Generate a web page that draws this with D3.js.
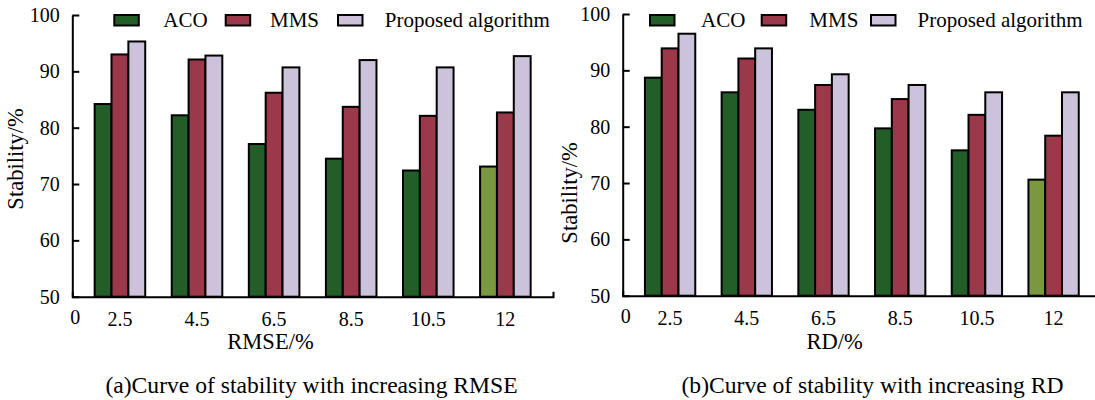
<!DOCTYPE html>
<html>
<head>
<meta charset="utf-8">
<script src="https://cdn.jsdelivr.net/npm/d3@7"></script>
<style>
  html, body { margin: 0; padding: 0; background: #fff; }
  svg { display: block; }
  text { font-family: "Liberation Serif", "Times New Roman", serif; fill: #000; }
</style>
</head>
<body>
<div id="chart"></div>
<script>
(function () {
  'use strict';

  // ── data ──────────────────────────────────────────────
  var categories = ['2.5', '4.5', '6.5', '8.5', '10.5', '12'];
  var seriesNames = ['ACO', 'MMS', 'Proposed algorithm'];
  var yTicks = [50, 60, 70, 80, 90, 100];

  var rmseAco = [84.2, 82.2, 77.1, 74.5, 72.4, 73.1];
  var rmseMms = [93.0, 92.1, 86.2, 83.7, 82.1, 82.7];
  var rmseProposed = [95.3, 92.8, 90.7, 92.0, 90.7, 92.7];

  var rdAco = [88.7, 86.1, 83.0, 79.7, 75.8, 70.6];
  var rdMms = [93.9, 92.1, 87.4, 84.9, 82.1, 78.4];
  var rdProposed = [96.5, 93.9, 89.3, 87.4, 86.1, 86.1];

  var colors = ['#235e28', '#9b384a', '#ccc2db'];
  var lastAcoColor = '#7a9840';

  var W = 1095, H = 400;
  var svg = d3.select('#chart').append('svg').attr('width', W).attr('height', H);
  svg.append('rect').attr('width', W).attr('height', H).attr('fill', '#fff');

  function drawPanel(opts) {
    var x = d3.scaleBand().domain(categories).range([opts.x0, opts.x1])
      .paddingInner(0.344).paddingOuter(0.29);
    var y = d3.scaleLinear().domain([50, 100]).range([opts.yBottom, opts.yTop]);
    var bw = x.bandwidth() / 3;
    var g = svg.append('g');

    // bars
    opts.series.forEach(function (vals, si) {
      g.selectAll('rect.s' + si).data(vals).enter().append('rect')
        .attr('class', 's' + si)
        .attr('x', function (d, i) { return x(categories[i]) + si * bw; })
        .attr('y', function (d) { return y(d); })
        .attr('width', bw)
        .attr('height', function (d) { return y(50) - y(d); })
        .attr('fill', function (d, i) { return (si === 0 && i === vals.length - 1) ? lastAcoColor : colors[si]; })
        .attr('stroke', '#000').attr('stroke-width', 2);
    });

    // axes
    var ax = g.append('g').attr('transform', 'translate(0,' + opts.yBottom + ')')
      .call(d3.axisBottom(x).tickSize(0).tickSizeOuter(-5).tickPadding(14.8));
    ax.selectAll('text').attr('font-size', 20);
    ax.select('.domain').attr('stroke-width', 2).attr('stroke', '#000');

    var ay = g.append('g').attr('transform', 'translate(' + opts.x0 + ',0)')
      .call(d3.axisLeft(y).tickValues(yTicks).tickSize(-7).tickSizeOuter(0).tickPadding(12.5));
    ay.selectAll('text').attr('font-size', 20);
    ay.selectAll('.tick line').attr('stroke-width', 2);
    ay.select('.domain').attr('stroke-width', 2);

    g.append('text').attr('x', opts.x0 + 3).attr('y', opts.yBottom + 27)
      .attr('text-anchor', 'middle').attr('font-size', 20).text('0');

    // titles
    g.append('text').attr('x', opts.xTitleX).attr('y', 348.5)
      .attr('text-anchor', 'middle').attr('font-size', 22.5).text(opts.xTitle);
    g.append('text').attr('transform', 'translate(' + opts.yTitleX + ',' + opts.yTitleY + ') rotate(-90)')
      .attr('text-anchor', 'middle').attr('font-size', 22.5).text('Stability/%');
    g.append('text').attr('x', opts.captionX).attr('y', 393)
      .attr('text-anchor', 'middle').attr('font-size', 23.6).text(opts.caption);

    // legend
    seriesNames.forEach(function (name, si) {
      g.append('rect').attr('x', opts.legendSwatch[si]).attr('y', 15)
        .attr('width', 24.5).attr('height', 10.5)
        .attr('fill', colors[si]).attr('stroke', '#000').attr('stroke-width', 2);
      g.append('text').attr('x', opts.legendText[si]).attr('y', 27)
        .attr('font-size', 21).text(name);
    });
  }

  drawPanel({
    series: [rmseAco, rmseMms, rmseProposed],
    x0: 72.3, x1: 553, yTop: 15, yBottom: 296.7,
    xTitle: 'RMSE/%', xTitleX: 270.5,
    yTitleX: 23.3, yTitleY: 159,
    caption: '(a)Curve of stability with increasing RMSE', captionX: 311.5,
    legendSwatch: [114.3, 225.7, 338], legendText: [163.3, 270, 384.8]
  });

  drawPanel({
    series: [rdAco, rdMms, rdProposed],
    x0: 622.7, x1: 1101, yTop: 14, yBottom: 295.7,
    xTitle: 'RD/%', xTitleX: 834.5,
    yTitleX: 576.6, yTitleY: 193,
    caption: '(b)Curve of stability with increasing RD', captionX: 872.5,
    legendSwatch: [650, 761.7, 871], legendText: [701, 809.3, 917.5]
  });
})();
</script>
</body>
</html>
